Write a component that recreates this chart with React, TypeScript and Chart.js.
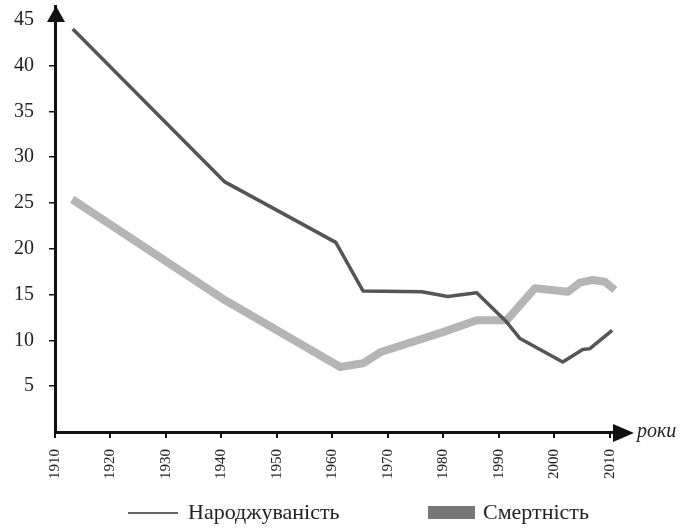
import React, { useEffect, useRef } from "react";
import { Chart, registerables } from "chart.js";

Chart.register(...registerables);

const tickYears = [1910, 1920, 1930, 1940, 1950, 1960, 1970, 1980, 1990, 2000, 2010];
const tickValues = [5, 10, 15, 20, 25, 30, 35, 40, 45];

const birthYears = [1913.2, 1940.6, 1960.6, 1965.5, 1976.1, 1980.8, 1986.0, 1991.4, 1993.8, 1999.2, 2001.5, 2005.1, 2006.4, 2010.4];
const birthRates = [44.0, 27.3, 20.7, 15.4, 15.3, 14.8, 15.2, 12.0, 10.2, 8.4, 7.65, 9.0, 9.1, 11.1];

const deathYears = [1913.1, 1940.6, 1961.4, 1965.5, 1968.6, 1979.9, 1986.0, 1991.4, 1996.5, 2002.4, 2004.6, 2006.9, 2009.1, 2010.9];
const deathRates = [25.4, 14.4, 7.1, 7.5, 8.7, 10.9, 12.2, 12.2, 15.7, 15.3, 16.3, 16.6, 16.4, 15.5];

const birthLabel = "Народжуваність";
const deathLabel = "Смертність";
const xAxisTitle = "роки";

const SERIF = "'Liberation Serif', 'Times New Roman', serif";

const decorPlugin = {
  id: "decor",
  afterDraw(chart: any) {
    const { ctx, chartArea } = chart;
    const left = chartArea.left;
    const bottom = chartArea.bottom;
    ctx.save();
    ctx.fillStyle = "#111";
    // y arrow
    ctx.beginPath();
    ctx.moveTo(left + 1, 6);
    ctx.lineTo(left - 8, 22);
    ctx.lineTo(left + 10, 22);
    ctx.closePath();
    ctx.fill();
    // x arrow
    ctx.beginPath();
    ctx.moveTo(634, bottom + 1);
    ctx.lineTo(613, bottom - 8);
    ctx.lineTo(613, bottom + 10);
    ctx.closePath();
    ctx.fill();
    // axis title
    ctx.fillStyle = "#222";
    ctx.font = `italic 20px ${SERIF}`;
    ctx.textBaseline = "middle";
    ctx.textAlign = "left";
    ctx.fillText(xAxisTitle, 637, bottom);
    // legend
    const ly = 513;
    ctx.strokeStyle = "#666";
    ctx.lineWidth = 2;
    ctx.beginPath();
    ctx.moveTo(128, ly);
    ctx.lineTo(178, ly);
    ctx.stroke();
    ctx.font = `22px ${SERIF}`;
    ctx.fillStyle = "#222";
    ctx.fillText(birthLabel, 188, ly);
    ctx.fillStyle = "#777";
    ctx.fillRect(428, ly - 7, 47, 13);
    ctx.fillStyle = "#222";
    ctx.fillText(deathLabel, 483, ly);
    ctx.restore();
  },
};

export default function App() {
  const ref = useRef<HTMLCanvasElement | null>(null);
  useEffect(() => {
    let chart: any = null;
    let cancelled = false;
    const make = () => {
      if (cancelled || !ref.current) return;
      chart = new Chart(ref.current, {
        type: "line",
        data: {
          datasets: [
            {
              label: birthLabel,
              data: birthYears.map((x, i) => ({ x, y: birthRates[i] })),
              borderColor: "#555",
              borderWidth: 3.5,
              pointRadius: 0,
              tension: 0,
              borderJoinStyle: "round",
            },
            {
              label: deathLabel,
              data: deathYears.map((x, i) => ({ x, y: deathRates[i] })),
              borderColor: "#b5b5b5",
              borderWidth: 8,
              pointRadius: 0,
              tension: 0,
              borderJoinStyle: "round",
            },
          ],
        },
        options: {
          responsive: false,
          animation: false,
          events: [],
          layout: { padding: { top: 6, right: 62, left: 0, bottom: 0 } },
          plugins: { legend: { display: false }, tooltip: { enabled: false } },
          scales: {
            x: {
              type: "linear",
              min: 1910,
              max: 2012,
              afterBuildTicks: (s: any) => {
                s.ticks = tickYears.map((v) => ({ value: v }));
              },
              afterFit: (s: any) => {
                s.height = 98;
                s.paddingLeft = 0;
                s.paddingRight = 0;
              },
              ticks: {
                autoSkip: false,
                minRotation: 90,
                maxRotation: 90,
                padding: 11,
                color: "#222",
                font: { family: SERIF, size: 15 },
                callback: (v: any) => String(v),
              },
              grid: { display: true, drawOnChartArea: false, drawTicks: true, tickLength: 6, color: "#111", lineWidth: 2 },
              border: { display: true, color: "#111", width: 3 },
            },
            y: {
              min: 0,
              max: 46.5,
              afterBuildTicks: (s: any) => {
                s.ticks = tickValues.map((v) => ({ value: v }));
              },
              afterFit: (s: any) => {
                s.width = 55;
                s.paddingTop = 0;
                s.paddingBottom = 0;
              },
              ticks: {
                padding: 15,
                color: "#222",
                font: { family: SERIF, size: 20 },
                callback: (v: any) => String(v),
              },
              grid: { display: true, drawOnChartArea: false, drawTicks: true, tickLength: 6, color: "#111", lineWidth: 1.5 },
              border: { display: true, color: "#111", width: 3 },
            },
          },
        },
        plugins: [decorPlugin],
      } as any);
    };
    const fonts: any = (document as any).fonts;
    if (fonts && fonts.load) {
      Promise.all([
        fonts.load("20px 'Liberation Serif'"),
        fonts.load("italic 20px 'Liberation Serif'"),
      ])
        .catch(() => null)
        .then(() => make());
    } else {
      make();
    }
    return () => {
      cancelled = true;
      if (chart) chart.destroy();
    };
  }, []);
  return (
    <div style={{ position: "absolute", left: 0, top: 0, width: 683, height: 530, background: "#fff", fontFamily: SERIF }}>
      <canvas ref={ref} width={683} height={530} />
    </div>
  );
}
